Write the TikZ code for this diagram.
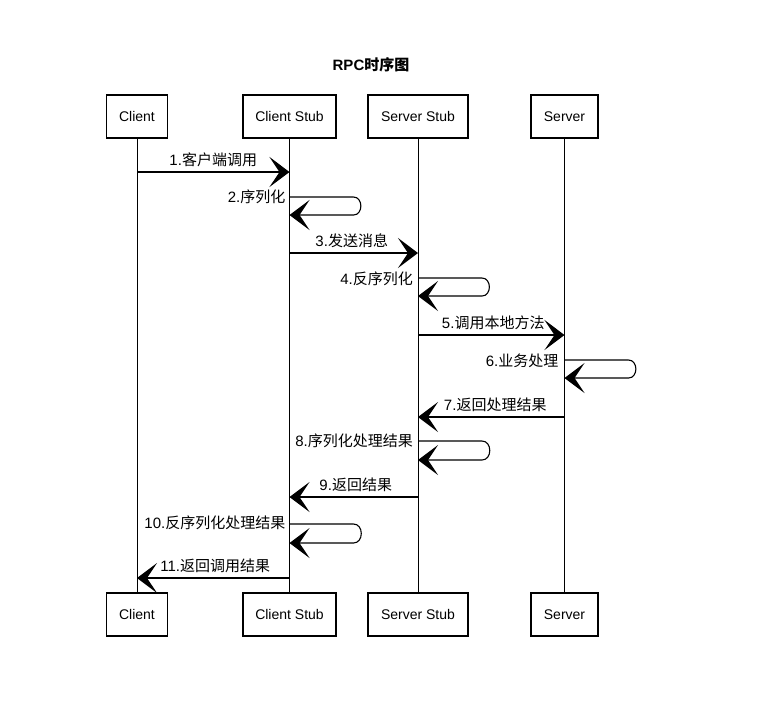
\documentclass[tikz,border=0pt]{standalone}
\usepackage{fontspec}
\setmainfont{Liberation Sans}
\newfontfamily\cjk{Noto Sans CJK SC}
\usetikzlibrary{arrows.meta}
\begin{document}
\begin{tikzpicture}[x=1pt,y=-1pt,
 box/.style={draw,line width=1.1pt,minimum height=43pt,inner sep=0pt,font=\fontsize{14}{16}\selectfont},
 life/.style={line width=0.9pt},
 msg/.style={line width=1.1pt,-{Stealth[length=20pt,width=30pt,inset=10pt]}},
 lbl/.style={font=\fontsize{15}{17}\selectfont,inner sep=1pt}]
\useasboundingbox[fill=white] (0,0) rectangle (777,724);
\node[font=\bfseries\fontsize{15}{18}\selectfont] (title) at (371,65) {RPC{\cjk 时序图}};
% top boxes
\node[box,minimum width=61pt] (c) at (137,116.5) {Client};
\node[box,minimum width=93pt] (cs) at (289.5,116.5) {Client Stub};
\node[box,minimum width=100pt] (ss) at (418,116.5) {Server Stub};
\node[box,minimum width=67pt] (s) at (564.5,116.5) {Server};
% bottom boxes
\node[box,minimum width=61pt] (c2) at (137,614.5) {Client};
\node[box,minimum width=93pt] (cs2) at (289.5,614.5) {Client Stub};
\node[box,minimum width=100pt] (ss2) at (418,614.5) {Server Stub};
\node[box,minimum width=67pt] (s2) at (564.5,614.5) {Server};
% lifelines
\draw[life] (c.south) -- (c2.north);
\draw[life] (cs.south) -- (cs2.north);
\draw[life] (ss.south) -- (ss2.north);
\draw[life] (s.south) -- (s2.north);
% 1
\draw[msg] (c |- 0,172) -- node[lbl,above=4pt] {1.{\cjk 客户端调用}} (cs |- 0,172);
% 2
\draw[msg] (cs |- 0,197) -- ++(64,0) to[out=0,in=0,looseness=1.4] ++(0,18) -- (cs |- 0,215);
\node[lbl,anchor=east] (l2) at ([xshift=-3pt]cs |- 0,197) {2.{\cjk 序列化}};
% 3
\draw[msg] (cs |- 0,253) -- node[lbl,above=4pt,xshift=-2pt] {3.{\cjk 发送消息}} (ss |- 0,253);
% 4
\draw[msg] (ss |- 0,278) -- ++(64,0) to[out=0,in=0,looseness=1.4] ++(0,18) -- (ss |- 0,296);
\node[lbl,anchor=east] (l4) at ([xshift=-4pt]ss |- 0,279) {4.{\cjk 反序列化}};
% 5
\draw[msg] (ss |- 0,335) -- node[lbl,above=4pt,xshift=2pt] {5.{\cjk 调用本地方法}} (s |- 0,335);
% 6
\draw[msg] (s |- 0,360) -- ++(64,0) to[out=0,in=0,looseness=1.4] ++(0,18) -- (s |- 0,378);
\node[lbl,anchor=east] (l6) at ([xshift=-5pt]s |- 0,361) {6.{\cjk 业务处理}};
% 7
\draw[msg] (s |- 0,417) -- node[lbl,above=4pt,xshift=4pt] {7.{\cjk 返回处理结果}} (ss |- 0,417);
% 8
\draw[msg] (ss |- 0,441) -- ++(64,0) to[out=0,in=0,looseness=1.4] ++(0,19) -- (ss |- 0,460);
\node[lbl,anchor=east] (l8) at ([xshift=-4pt]ss |- 0,441) {8.{\cjk 序列化处理结果}};
% 9
\draw[msg] (ss |- 0,497) -- node[lbl,above=4pt,xshift=2pt] {9.{\cjk 返回结果}} (cs |- 0,497);
% 10
\draw[msg] (cs |- 0,524) -- ++(64,0) to[out=0,in=0,looseness=1.4] ++(0,19) -- (cs |- 0,543);
\node[lbl,anchor=east] (l10) at ([xshift=-3pt]cs |- 0,523) {10.{\cjk 反序列化处理结果}};
% 11
\draw[msg] (cs |- 0,578) -- node[lbl,above=4pt,xshift=2pt] {11.{\cjk 返回调用结果}} (c |- 0,578);
\end{tikzpicture}
\end{document}
